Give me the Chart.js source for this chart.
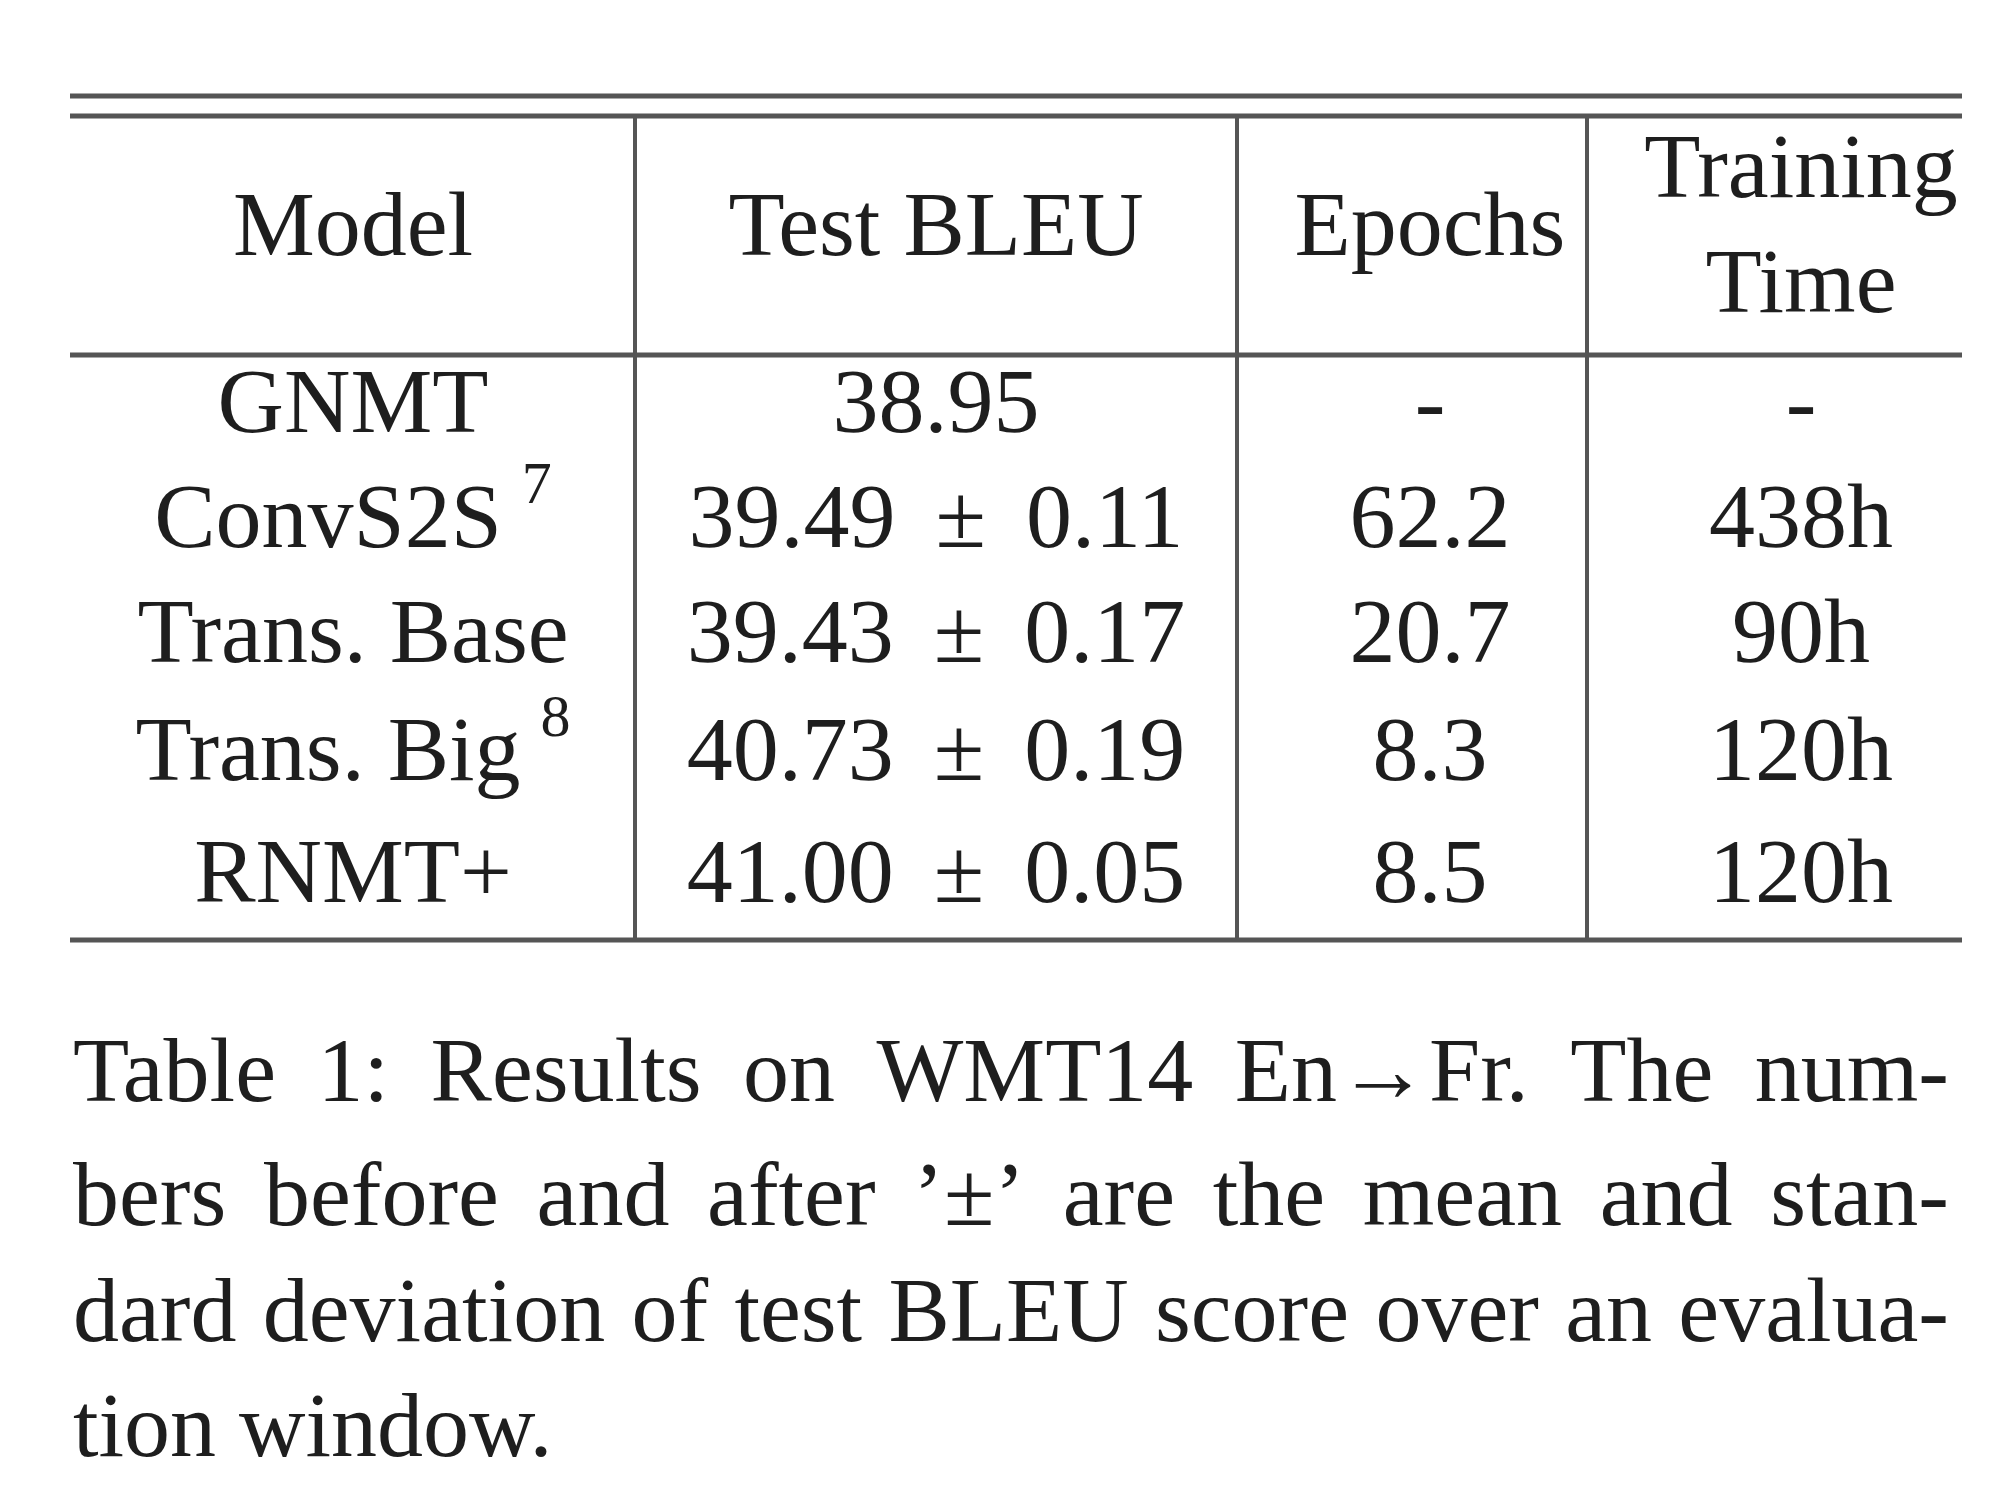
<!DOCTYPE html>
<html><head><meta charset="utf-8">
<script src="https://cdn.jsdelivr.net/npm/chart.js@4"></script>
<style>html,body{margin:0;padding:0;background:#fff}canvas{display:block}</style>
</head><body>
<canvas id="c" width="2000" height="1509"></canvas>
<script>
const headers = [["Model"], ["Test BLEU"], ["Epochs"], ["Training", "Time"]];
const models = ["GNMT", "ConvS2S", "Trans. Base", "Trans. Big", "RNMT+"];
const modelNotes = ["", "7", "", "8", ""];
const bleu = ["38.95", "39.49 ± 0.11", "39.43 ± 0.17", "40.73 ± 0.19", "41.00 ± 0.05"];
const epochs = ["-", "62.2", "20.7", "8.3", "8.5"];
const trainTime = ["-", "438h", "90h", "120h", "120h"];
const caption = [
  "Table 1: Results on WMT14 En→Fr. The num-",
  "bers before and after ’±’ are the mean and stan-",
  "dard deviation of test BLEU score over an evalua-",
  "tion window."
];

const colCenters = [353, 936, 1430, 1801];
const colBounds = [635, 1237, 1587];
const rowY = [408, 523, 638, 756, 878];
const capY = [1077, 1201, 1317, 1432];
const font = "Liberation Serif, Times New Roman, serif";
const ink = "#1e1e1e";

const tablePlugin = {
  id: 'table',
  afterDraw(chart) {
    const c = chart.ctx, xs = chart.scales.x, ys = chart.scales.y;
    const X = v => xs.getPixelForValue(v), Y = v => ys.getPixelForValue(v);
    c.save();
    c.strokeStyle = "#555";
    c.lineWidth = 5;
    const hline = (y) => { c.beginPath(); c.moveTo(X(70), Y(y)); c.lineTo(X(1962), Y(y)); c.stroke(); };
    [96, 116, 355, 940].forEach(hline);
    c.lineWidth = 4;
    colBounds.forEach(x => { c.beginPath(); c.moveTo(X(x), Y(116)); c.lineTo(X(x), Y(940)); c.stroke(); });

    c.fillStyle = ink;
    c.textBaseline = "middle";
    c.textAlign = "center";
    c.font = "92px " + font;
    headers.forEach((h, i) => {
      if (h.length === 1) c.fillText(h[0], X(colCenters[i]), Y(231));
      else { c.fillText(h[0], X(colCenters[i]), Y(173)); c.fillText(h[1], X(colCenters[i]), Y(288)); }
    });
    const cell = (txt, note, cx, y) => {
      const parts = txt.split(" ± ");
      c.font = "92px " + font;
      const pm = parts.length > 1;
      const sp = 20;
      const pmW = c.measureText("±").width;
      let w = pm ? c.measureText(parts[0]).width + pmW + c.measureText(parts[1]).width + 4 * sp : c.measureText(txt).width;
      let nw = 0;
      if (note) { c.font = "60px " + font; nw = c.measureText(note).width + 20; }
      let left = X(cx) - (w + nw) / 2;
      c.textAlign = "left";
      c.font = "92px " + font;
      if (pm) {
        c.fillText(parts[0], left, Y(y)); left += c.measureText(parts[0]).width + 2 * sp;
        c.fillText("±", left, Y(y)); left += pmW + 2 * sp;
        c.fillText(parts[1], left, Y(y));
      } else c.fillText(txt, left, Y(y));
      if (note) { c.font = "60px " + font; c.fillText(note, left + w + 20, Y(y) - 36); }
    };
    models.forEach((m, i) => {
      cell(m, modelNotes[i], colCenters[0], rowY[i]);
      cell(bleu[i], "", colCenters[1], rowY[i]);
      cell(epochs[i], "", colCenters[2], rowY[i]);
      cell(trainTime[i], "", colCenters[3], rowY[i]);
    });
    c.font = "92px " + font;
    c.textAlign = "left";
    const L = X(73), R = X(1949);
    caption.forEach((line, i) => {
      const words = line.split(" ");
      if (i === caption.length - 1) { c.fillText(line, L, Y(capY[i])); return; }
      const tw = words.reduce((s, w) => s + c.measureText(w).width, 0);
      const gap = (R - L - tw) / (words.length - 1);
      let x = L;
      words.forEach(w => { c.fillText(w, x, Y(capY[i])); x += c.measureText(w).width + gap; });
    });
    c.restore();
  }
};

new Chart(document.getElementById('c'), {
  type: 'scatter',
  data: { datasets: [{ data: [], pointRadius: 0 }] },
  options: {
    responsive: false, animation: false, devicePixelRatio: 1,
    layout: { padding: 0 },
    plugins: { legend: { display: false }, tooltip: { enabled: false } },
    scales: {
      x: { type: 'linear', min: 0, max: 2000, display: false },
      y: { type: 'linear', min: 0, max: 1509, reverse: true, display: false }
    }
  },
  plugins: [tablePlugin]
});
</script>
</body></html>
